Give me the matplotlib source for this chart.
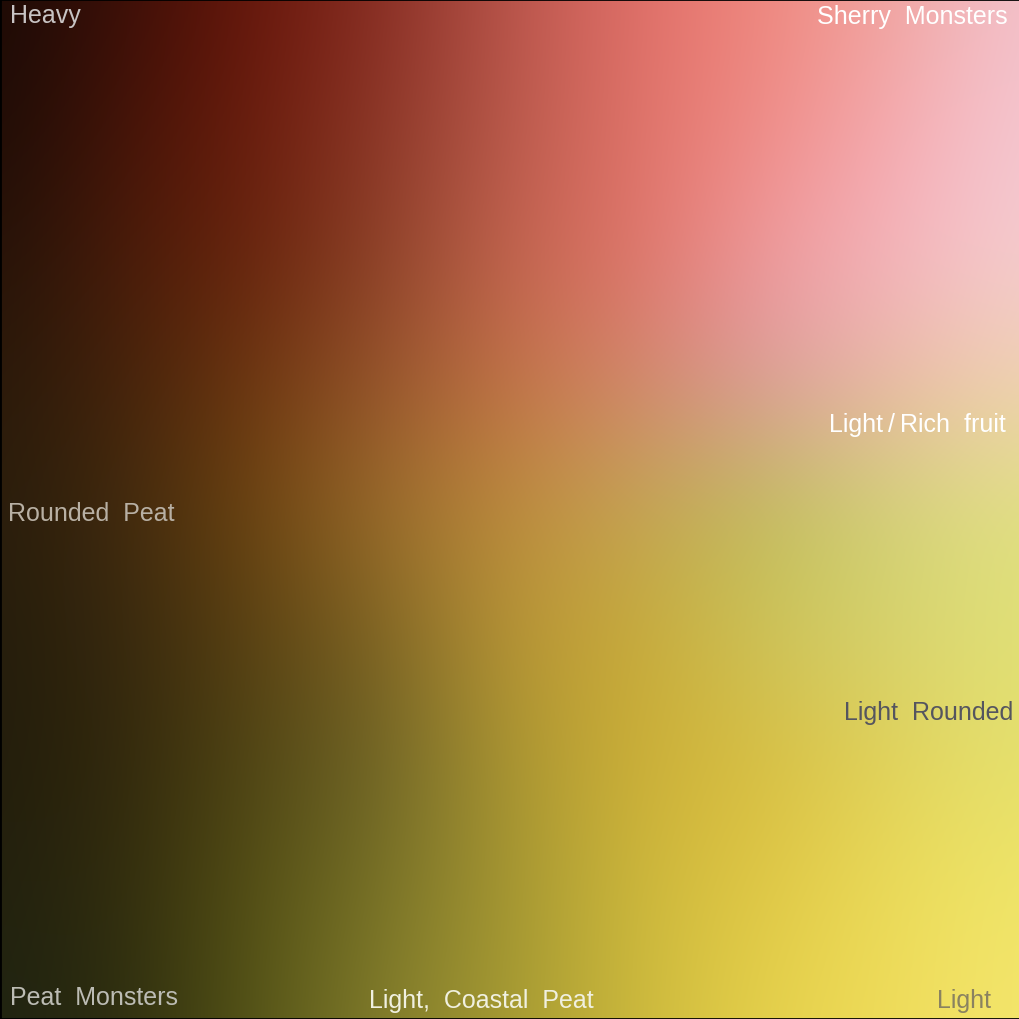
import numpy as np
import matplotlib.pyplot as plt

# colour anchors (9 x 9), rows top -> bottom, cols left -> right
row0 = [(25, 10, 5), (60, 15, 8), (105, 22, 10), (135, 45, 35), (185, 85, 75), (225, 110, 105), (240, 135, 125), (240, 165, 160), (243, 195, 205)]
row1 = [(28, 12, 6), (70, 20, 8), (108, 28, 12), (140, 55, 40), (185, 90, 75), (225, 115, 105), (240, 140, 135), (245, 170, 175), (245, 200, 210)]
row2 = [(35, 18, 8), (75, 28, 10), (105, 35, 12), (140, 65, 40), (195, 100, 80), (225, 115, 105), (240, 155, 158), (245, 180, 190), (245, 205, 210)]
row3 = [(40, 25, 10), (70, 35, 12), (110, 55, 15), (150, 85, 45), (195, 115, 70), (210, 135, 110), (218, 155, 160), (235, 185, 168), (240, 210, 180)]
row4 = [(40, 28, 12), (65, 42, 14), (110, 68, 15), (155, 110, 45), (190, 140, 60), (195, 165, 85), (190, 190, 90), (210, 210, 120), (225, 225, 130)]
row5 = [(35, 28, 12), (55, 40, 14), (90, 65, 18), (125, 100, 35), (185, 150, 55), (200, 170, 55), (205, 195, 90), (215, 210, 110), (225, 225, 120)]
row6 = [(33, 28, 12), (50, 40, 12), (80, 70, 20), (110, 100, 40), (170, 150, 50), (205, 175, 55), (215, 190, 65), (225, 210, 90), (230, 225, 110)]
row7 = [(33, 32, 14), (50, 45, 14), (85, 80, 20), (120, 115, 40), (165, 150, 50), (205, 185, 60), (225, 200, 70), (235, 220, 90), (240, 230, 105)]
row8 = [(30, 35, 18), (45, 45, 15), (85, 85, 22), (130, 125, 45), (165, 155, 50), (205, 185, 60), (230, 210, 75), (240, 220, 90), (245, 230, 110)]

labels = ["Heavy", "Sherry  Monsters", "Light\u2009/\u2009Rich  fruit", "Rounded  Peat",
          "Light  Rounded", "Peat  Monsters", "Light,  Coastal  Peat", "Light"]
label_x = [10, 1008, 1006, 8, 1013, 10, 481, 991]
label_y = [16, 17, 425, 514, 713, 998, 1001, 1001]
label_ha = ["left", "right", "right", "left", "right", "left", "center", "right"]
label_col = ["#c8c4c4", "#ffffff", "#ffffff", "#b8b0a4", "#55555f", "#bcbcb4", "#f0f0e0", "#8a8260"]

W = 1020
grid = np.array([row0, row1, row2, row3, row4, row5, row6, row7, row8], dtype=float) / 255
n = grid.shape[0]
step = W / (n - 1)

fig = plt.figure(figsize=(10.2, 10.2), dpi=100)
ax = fig.add_axes([0, 0, 1, 1])
ax.imshow(grid, interpolation="bicubic",
          extent=(-step / 2, W + step / 2, W + step / 2, -step / 2))
ax.set_xlim(0, W)
ax.set_ylim(W, 0)
ax.set_xticks([])
ax.set_yticks([])
for s in ax.spines.values():
    s.set_linewidth(2)
    s.set_color("black")

for t, x, y, ha, c in zip(labels, label_x, label_y, label_ha, label_col):
    ax.text(x, y, t, ha=ha, va="center", color=c, fontsize=18,
            family="Liberation Sans")

fig.savefig("out.png", dpi=100)
